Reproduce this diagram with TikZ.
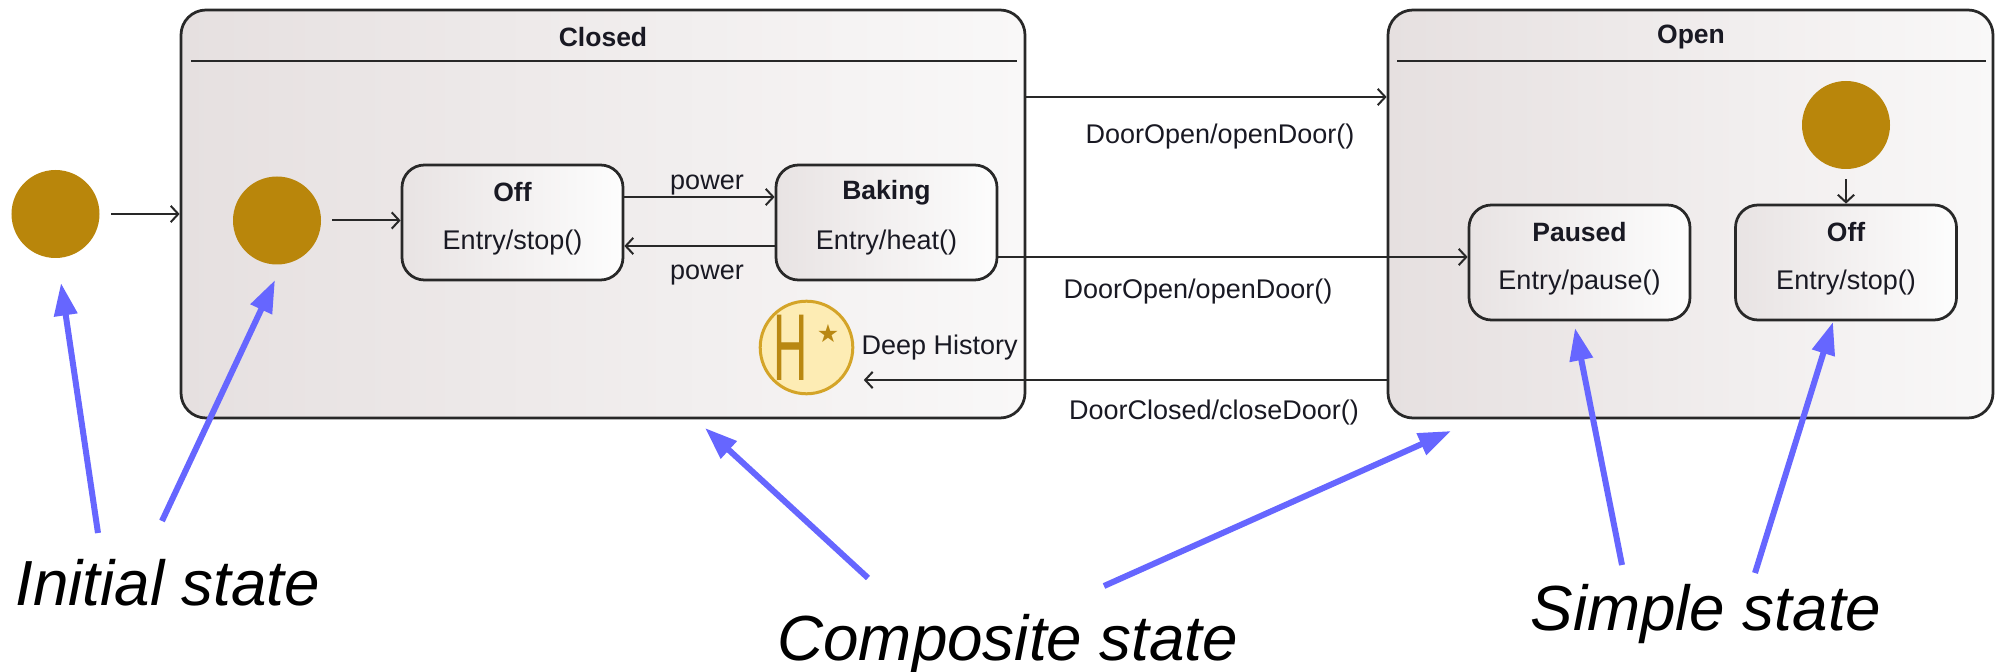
\documentclass[tikz,border=0pt]{standalone}
\usepackage{fontspec}
\setmainfont{Liberation Sans}
\newfontfamily\symfam{DejaVu Sans}
\usetikzlibrary{arrows.meta}
\definecolor{gold}{RGB}{185,134,11}
\definecolor{histline}{RGB}{212,164,40}
\definecolor{histfill}{RGB}{253,236,180}
\definecolor{histtext}{RGB}{185,136,18}
\definecolor{compL}{RGB}{230,224,224}
\definecolor{compR}{RGB}{249,248,248}
\definecolor{boxL}{RGB}{232,227,227}
\definecolor{boxR}{RGB}{253,253,253}
\definecolor{linec}{RGB}{40,40,40}
\definecolor{textc}{RGB}{25,25,35}
\definecolor{noteblue}{RGB}{102,102,255}
\newcommand\lblfont{\fontsize{10.8pt}{13pt}\selectfont}
\newcommand\ttlfont{\fontsize{10.6pt}{13pt}\selectfont\bfseries}
\newcommand\bigfont{\fontsize{25.5pt}{30pt}\selectfont\itshape}
\tikzset{
  composite/.style={draw=linec, line width=1.1pt, rounded corners=10pt,
    left color=compL, right color=compR, minimum height=163.2pt, inner sep=0pt},
  simplestate/.style={draw=linec, line width=1.1pt, rounded corners=9pt,
    left color=boxL, right color=boxR, minimum width=88.4pt, minimum height=46pt, inner sep=0pt},
  initial/.style={circle, fill=gold, minimum size=35.2pt, inner sep=0pt},
  hist/.style={circle, draw=histline, line width=1.2pt, fill=histfill, text=histtext,
    minimum size=36pt, inner sep=0pt},
  lbl/.style={font=\lblfont, text=textc, inner sep=0pt},
  ttl/.style={font=\ttlfont, text=textc, inner sep=0pt},
  conn/.style={draw=linec, line width=0.8pt, -{Straight Barb[length=3pt,width=6.5pt]}},
  note/.style={draw=noteblue, line width=2.4pt, -{Triangle[length=13pt,width=9pt]}},
  big/.style={font=\bigfont, text=black, inner sep=0pt, anchor=base west},
  sepline/.style={draw=linec, line width=1pt}
}
\begin{document}
\begin{tikzpicture}[x=0.4pt,y=-0.4pt]
\useasboundingbox (0,0) rectangle (2001,672);

% composite states
\node[composite, minimum width=337.6pt] (closed) at (603,214) {};
\node[composite, minimum width=242pt] (open) at (1690.5,214) {};
\node[ttl] (closedT) at (603,37) {Closed};
\node[ttl] (openT) at (1691,37) {Open};
\draw[sepline] (191,61) -- (1017,61);
\draw[sepline] (1397,61) -- (1986,61);

% initial states
\node[initial] (init0) at (55.5,214) {};
\node[initial] (init1) at (277,220.5) {};
\node[initial] (init2) at (1846,125) {};

% simple states
\node[simplestate] (off) at (512.5,222.5) {};
\node[ttl] (offT) at ([yshift=12pt]off.center) {Off};
\node[lbl] (offE) at ([yshift=-8pt]off.center) {Entry/stop()};

\node[simplestate] (baking) at (886.5,222.5) {};
\node[ttl] (bakingT) at ([yshift=12pt]baking.center) {Baking};
\node[lbl] (bakingE) at ([yshift=-8pt]baking.center) {Entry/heat()};

\node[simplestate] (paused) at (1579.5,262.5) {};
\node[ttl] (pausedT) at ([yshift=12pt]paused.center) {Paused};
\node[lbl] (pausedE) at ([yshift=-8pt]paused.center) {Entry/pause()};

\node[simplestate] (off2) at (1846,262.5) {};
\node[ttl] (off2T) at ([yshift=12pt]off2.center) {Off};
\node[lbl] (off2E) at ([yshift=-8pt]off2.center) {Entry/stop()};

% deep history
\node[hist] (hist) at (806.5,347.5) {\scalebox{0.5}[1]{\fontsize{38pt}{40pt}\selectfont H}\hspace{3.5pt}\raisebox{14.9pt}{\symfam\fontsize{10pt}{11pt}\selectfont ★}};
\node[lbl, anchor=west] (histL) at (861,348) {Deep History};

% transitions
\draw[conn, shorten <=4.4pt] (init0.east) -- (init0.east -| closed.west);
\draw[conn, shorten <=4.2pt] (init1.east) -- (init1.east -| off.west);
\draw[conn] ([yshift=10.2pt]off.east) -- ([yshift=10.2pt]baking.west);
\node[lbl] (pw1) at (707,185) {power};
\draw[conn] ([yshift=-9.4pt]baking.west) -- ([yshift=-9.4pt]off.east);
\node[lbl] (pw2) at (707,275) {power};
\draw[conn] ([yshift=46.8pt]closed.east) -- ([yshift=46.8pt]open.west);
\node[lbl] (t1) at (1220,137) {DoorOpen/openDoor()};
\draw[conn] ([yshift=-13.8pt]baking.east) -- ([yshift=-13.8pt]baking.east -| paused.west);
\node[lbl] (t2) at (1198,292) {DoorOpen/openDoor()};
\draw[conn, shorten >=3.8pt] ([yshift=-66.4pt]open.west) -- ([yshift=-66.4pt]open.west -| hist.east);
\node[lbl] (t3) at (1214,413) {DoorClosed/closeDoor()};
\draw[conn, shorten <=4pt] (init2.south) -- (off2.north);

% annotations
\node[big] (initL) at (15,605) {Initial state};
\node[big] (compL) at (777,660) {Composite state};
\node[big] (simpL) at (1530,630) {Simple state};

\coordinate (a1s) at (98,533);   \coordinate (a1t) at (61,283);
\coordinate (a2s) at (162,521);  \coordinate (a2t) at (275,280);
\coordinate (a3s) at (868,578);  \coordinate (a3t) at (705,428);
\coordinate (a4s) at (1104,586); \coordinate (a4t) at (1451,431);
\coordinate (a5s) at (1622,565); \coordinate (a5t) at (1575,328);
\coordinate (a6s) at (1755,573); \coordinate (a6t) at (1833,322);
\draw[note] (a1s) -- (a1t);
\draw[note] (a2s) -- (a2t);
\draw[note] (a3s) -- (a3t);
\draw[note] (a4s) -- (a4t);
\draw[note] (a5s) -- (a5t);
\draw[note] (a6s) -- (a6t);
\end{tikzpicture}
\end{document}
